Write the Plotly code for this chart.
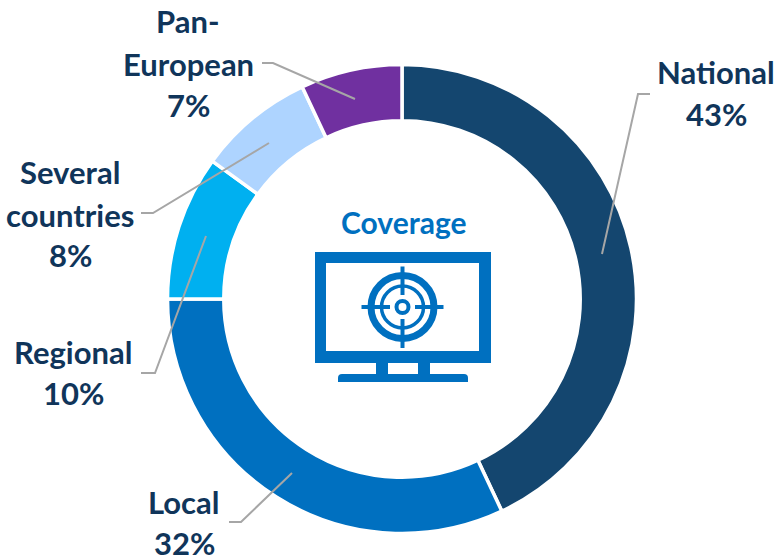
import plotly.graph_objects as go

categories = ["National", "Local", "Regional", "Several countries", "Pan-European"]
values = [43, 32, 10, 8, 7]
colors = ["#14466F", "#0070C0", "#00B0F0", "#AED4FF", "#7030A0"]
label_lines = [
    ["National", "43%"],
    ["Local", "32%"],
    ["Regional", "10%"],
    ["Several", "countries", "8%"],
    ["Pan-", "European", "7%"],
]

W, H = 782, 557
FONT = "Lato"
NAVY = "#10355A"
BLUE = "#0070C0"
GREY = "#A6A6A6"


def px(x):
    return x / W


def py(y):
    return 1 - y / H


fig = go.Figure(
    go.Pie(
        labels=categories,
        values=values,
        sort=False,
        direction="clockwise",
        rotation=0,
        hole=0.76,
        textinfo="none",
        marker=dict(colors=colors, line=dict(color="white", width=3.5)),
        domain=dict(x=[px(167.5), px(636.5)], y=[py(533.5), py(64.5)]),
        showlegend=False,
    )
)

shapes = []


def rect(x0, y0, x1, y1, color=BLUE):
    shapes.append(dict(type="rect", xref="paper", yref="paper", x0=px(x0), x1=px(x1),
                       y0=py(y0), y1=py(y1), fillcolor=color, line=dict(width=0)))


def ring(cx, cy, r, width):
    shapes.append(dict(type="circle", xref="paper", yref="paper", x0=px(cx - r), x1=px(cx + r),
                       y0=py(cy - r), y1=py(cy + r), fillcolor="rgba(0,0,0,0)",
                       line=dict(color=BLUE, width=width)))


# Leader lines
leaders = [
    [(602, 254), (638, 94), (650, 94)],
    [(292, 473), (241, 522), (229, 522)],
    [(206, 236), (155, 373), (141, 373)],
    [(269, 143), (153, 213), (141, 213)],
    [(355, 99), (273, 63), (262, 63)],
]
for pts in leaders:
    path = "M " + " L ".join(f"{px(x):.5f},{py(y):.5f}" for x, y in pts)
    shapes.append(dict(type="path", xref="paper", yref="paper", path=path,
                       line=dict(color=GREY, width=2)))

# Monitor icon
rect(315, 252, 491, 263)
rect(315, 351, 491, 363)
rect(315, 252, 326, 363)
rect(479, 252, 491, 363)
rect(376, 363, 388, 375)
rect(418, 363, 430, 375)
# Rounded monitor base
base = (
    f"M {px(342):.5f},{py(374):.5f} L {px(464):.5f},{py(374):.5f} "
    f"Q {px(468):.5f},{py(374):.5f} {px(468):.5f},{py(378):.5f} "
    f"L {px(468):.5f},{py(382):.5f} L {px(338):.5f},{py(382):.5f} L {px(338):.5f},{py(378):.5f} "
    f"Q {px(338):.5f},{py(374):.5f} {px(342):.5f},{py(374):.5f} Z"
)
shapes.append(dict(type="path", xref="paper", yref="paper", path=base,
                   fillcolor=BLUE, line=dict(width=0)))
# Target icon
ring(402.5, 307, 31.5, 7)
ring(402.5, 307, 21, 3.5)
ring(402.5, 307, 6, 4)
rect(361.5, 305, 390, 309)
rect(415, 305, 443.5, 309)
rect(400.5, 266.5, 404.5, 295)
rect(400.5, 319, 404.5, 348)

annotations = [dict(text="<b>Coverage</b>", x=px(403), y=py(222), xref="paper", yref="paper",
                    showarrow=False, font=dict(family=FONT, size=30, color=BLUE),
                    xanchor="center", yanchor="middle")]
centers = [
    (716, [72, 114]),
    (184, [502, 543]),
    (73, [352, 393]),
    (70, [172, 215, 255]),
    (188, [21, 64, 105]),
]
for lines, (cx, ys) in zip(label_lines, centers):
    for line, y in zip(lines, ys):
        annotations.append(dict(text=f"<b>{line}</b>", x=px(cx), y=py(y), xref="paper", yref="paper",
                                showarrow=False, font=dict(family=FONT, size=31, color=NAVY),
                                xanchor="center", yanchor="middle"))

fig.update_layout(width=W, height=H, margin=dict(l=0, r=0, t=0, b=0),
                  paper_bgcolor="white", plot_bgcolor="white",
                  shapes=shapes, annotations=annotations)
fig.write_html("out.html", config=dict(displayModeBar=False),
               post_script="document.body.style.margin='0';document.body.style.overflow='hidden';")
